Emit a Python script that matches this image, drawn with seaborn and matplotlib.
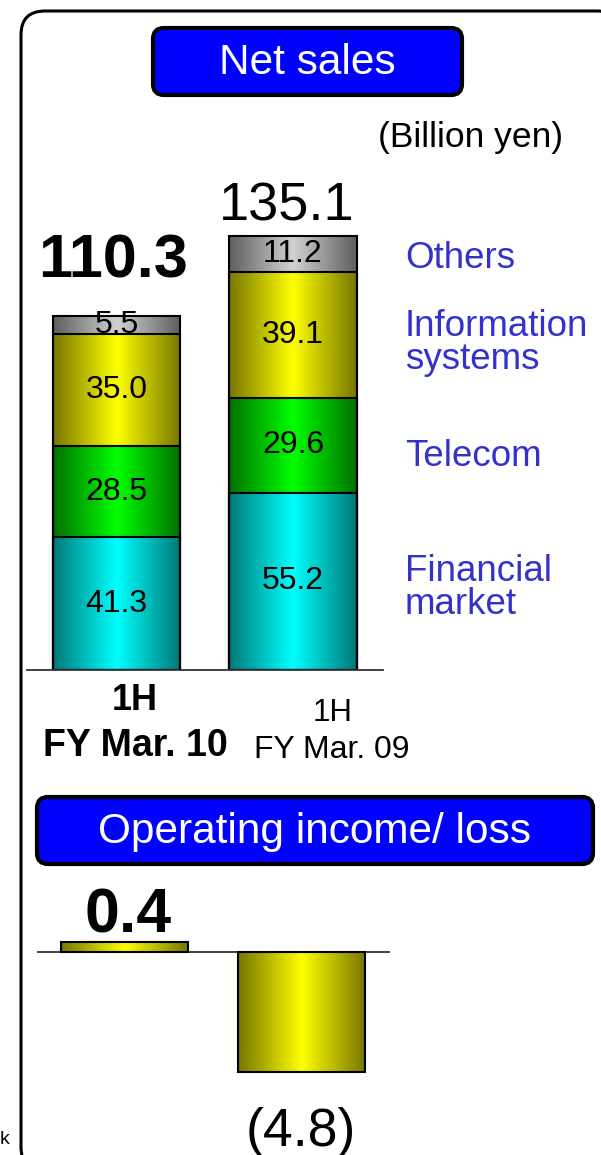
import numpy as np
import matplotlib
matplotlib.use("Agg")
import matplotlib.pyplot as plt
import seaborn as sns
from matplotlib.colors import LinearSegmentedColormap
from matplotlib.patches import FancyBboxPatch

# --- data ---
periods = ["1H FY Mar. 10", "1H FY Mar. 09"]
segments = ["Financial\nmarket", "Telecom", "Information\nsystems", "Others"]
financial = [41.3, 55.2]
telecom = [28.5, 29.6]
info_sys = [35.0, 39.1]
others = [5.5, 11.2]
totals = [110.3, 135.1]
op_income = [0.4, -4.8]
op_labels = ["0.4", "(4.8)"]

# dark edge / bright centre for each segment
shades = {
    "Financial\nmarket": ("#007878", "#00FFFF"),
    "Telecom": ("#007000", "#00FF00"),
    "Information\nsystems": ("#767600", "#FFFF00"),
    "Others": ("#5E5E5E", "#D2D2D2"),
}

sns.set_style("white")
plt.rcParams["font.family"] = ["Liberation Sans", "DejaVu Sans"]
plt.rcParams["text.color"] = "black"

W, H = 601, 1155
fig = plt.figure(figsize=(W / 100, H / 100), dpi=100)


def rect(l, t, r, b):
    return [l / W, 1 - b / H, (r - l) / W, (b - t) / H]


# background layer in pixel units for frame, boxes and loose text
bg = fig.add_axes([0, 0, 1, 1], zorder=-1)
bg.set_xlim(0, W)
bg.set_ylim(H, 0)
bg.axis("off")

bg.add_patch(FancyBboxPatch((21, 11), 600, 1160, boxstyle="round,pad=0,rounding_size=24",
                            fc="white", ec="black", lw=2.2))
for (l, t, r, b), label in [((153, 28, 462, 95), "Net sales"),
                            ((37, 797, 593, 864), "Operating income/ loss")]:
    bg.add_patch(FancyBboxPatch((l, t), r - l, b - t, boxstyle="round,pad=0,rounding_size=11",
                                fc="#0000FF", ec="black", lw=3))
    bg.text((l + r) / 2, (t + b) / 2 + 2, label, color="white", fontsize=30.5,
            ha="center", va="center")

bg.text(471, 137, "(Billion yen)", fontsize=25.5, ha="center", va="center")
bg.text(5, 1140, "k", fontsize=14, ha="center", va="center")

blue = "#3333CC"
for txt, y in [("Others", 259), ("Information\nsystems", 343),
               ("Telecom", 457), ("Financial\nmarket", 588)]:
    bg.text(405, y, txt, color=blue, fontsize=26.5, ha="left", va="center", linespacing=0.92)

bg.text(135, 700, "1H", fontsize=26, fontweight="bold", ha="center", va="center")
bg.text(135, 746, "FY Mar. 10", fontsize=27, fontweight="bold", ha="center", va="center")
bg.text(333, 713, "1H", fontsize=22.5, ha="center", va="center")
bg.text(332, 750, "FY Mar. 09", fontsize=23, ha="center", va="center")


def shade_patches(ax, patches, dark, light):
    cmap = LinearSegmentedColormap.from_list("g", [dark, light, dark])
    grad = np.linspace(0, 1, 256).reshape(1, -1)
    for p in patches:
        x0, w = p.get_x(), p.get_width()
        y0, y1 = sorted([p.get_y(), p.get_y() + p.get_height()])
        im = ax.imshow(grad, cmap=cmap, extent=[x0, x0 + w, y0, y1], aspect="auto",
                       interpolation="bicubic", zorder=1)
        im.set_clip_path(p)
        p.set_facecolor("none")
        p.set_edgecolor("black")
        p.set_linewidth(1.5)
        p.set_zorder(2)


# --- net sales stacked bars ---
ax = fig.add_axes(rect(27, 170, 383, 670))
ax.set_facecolor("none")
layers = [financial, telecom, info_sys, others]
cum = np.cumsum(np.array(layers), axis=0)
for i in range(len(segments) - 1, -1, -1):
    n0 = len(ax.patches)
    sns.barplot(x=periods, y=cum[i], order=periods, color=shades[segments[i]][1],
                width=0.725, errorbar=None, ax=ax)
    shade_patches(ax, ax.patches[n0:], *shades[segments[i]])
    for j in range(len(periods)):
        ax.text(j, cum[i][j] - layers[i][j] / 2, f"{layers[i][j]:.1f}", fontsize=23,
                ha="center", va="center", zorder=5)

ax.text(-0.02, totals[0] + 8, f"{totals[0]:.1f}", fontsize=44, fontweight="bold",
        ha="center", va="bottom")
ax.text(0.966, totals[1] + 1.5, f"{totals[1]:.1f}", fontsize=39, ha="center", va="bottom")
ax.set_xlim(-0.507, 1.51)
ax.set_ylim(0, 500 / 3.21)
ax.set_xticks([])
ax.set_yticks([])
for s in ["left", "right", "top"]:
    ax.spines[s].set_visible(False)
ax.spines["bottom"].set_color("#333333")
ax.spines["bottom"].set_linewidth(1.3)
ax.set_xlabel("")
ax.set_ylabel("")

# --- operating income bars ---
ax2 = fig.add_axes(rect(37, 880, 390, 1100))
ax2.set_facecolor("none")
sns.barplot(x=periods, y=op_income, order=periods, color="#FFFF00", width=0.72,
            errorbar=None, ax=ax2)
shade_patches(ax2, ax2.patches, "#767600", "#FFFF00")
ax2.axhline(0, color="#333333", lw=1.3, zorder=0)
ax2.text(0.02, op_income[0] - 0.15, op_labels[0], fontsize=45, fontweight="bold",
         ha="center", va="bottom")
ax2.text(1, op_income[1] - 1.4, op_labels[1], fontsize=38.5, ha="center", va="top")
ax2.set_xlim(-0.496, 1.504)
ax2.set_ylim(-5.92, 2.88)
ax2.set_xticks([])
ax2.set_yticks([])
ax2.set_xlabel("")
ax2.set_ylabel("")
for s in ax2.spines.values():
    s.set_visible(False)

fig.savefig("out.png", dpi=100)
